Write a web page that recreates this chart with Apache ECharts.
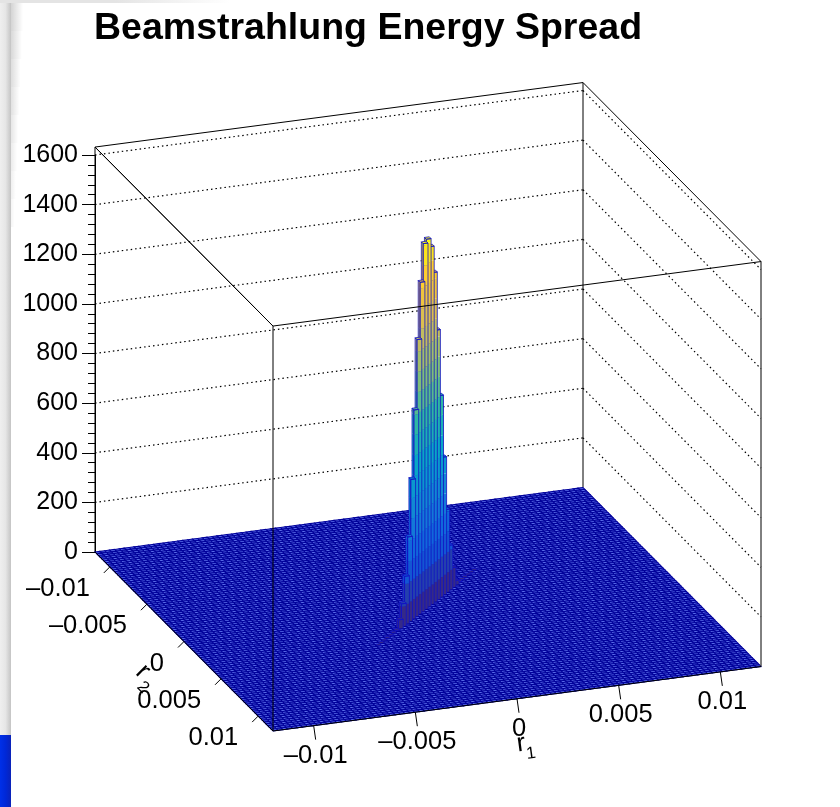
<!DOCTYPE html>
<html><head><meta charset="utf-8">
<style>html,body{margin:0;padding:0;background:#fff}#c{width:840px;height:807px}</style>
<script src="https://cdn.jsdelivr.net/npm/echarts@6/dist/echarts.min.js"></script>
</head><body><div id="c"></div>
<script>
const titleText = 'Beamstrahlung Energy Spread';
const zTicks = [0,200,400,600,800,1000,1200,1400,1600];
const zBoxTop = 1632;
const r1Ticks = [-0.01,-0.005,0,0.005,0.01];
const r2Ticks = [-0.01,-0.005,0,0.005,0.01];
const r1TickText = ['–0.01','–0.005','0','0.005','0.01'];
const r2TickText = ['–0.01','–0.005','0','0.005','0.01'];
const rRange = [-0.012,0.012];
const binCount = 100;
const ridgeBinR1 = [34,35,36,37,38,39,40,41,42,43,44,45,46,47,48,49,50,51,52,53,54,55,56,57,58,59,60,61,62,63,64,65];
const ridgeBinR2 = [64,63,62,61,60,59,58,57,56,55,54,53,52,51,50,49,48,47,46,45,44,43,42,41,40,39,38,37,36,35,34,33];
const ridgeCounts = [1,1,1,2,2,3,5,38,93,194,343,565,835,1109,1330,1476,1484,1444,1330,1088,814,556,335,181,81,20,5,3,2,2,1,1];
const birdStops = [[53,42,135],[15,92,221],[20,129,214],[6,164,202],[46,183,164],[135,191,119],[209,187,89],[254,200,50],[249,251,14]];
const levelCount = 20;
const topColourLevel = 18;

const gridLeft=95, gridRight=761, zeroY=552, topTickY=155;
const pxPerZ=(zeroY-topTickY)/1600;
const view={uR1:488,uR2:178,upR1:64.5/pxPerZ,downR2:179/pxPerZ};

function norm(r){return (r-rRange[0])/(rRange[1]-rRange[0]);}
function proj(api,s,t,z,dx,dy){
  const p=api.coord([s*view.uR1+t*view.uR2, z+s*view.upR1-t*view.downR2]);
  return [p[0]+(dx||0),p[1]+(dy||0)];
}
function bird(f){
  const x=Math.min(1,Math.max(0,f))*(birdStops.length-1),k=Math.min(birdStops.length-2,Math.floor(x)),w=x-k;
  const a=birdStops[k],b=birdStops[k+1];
  return 'rgb('+[0,1,2].map(c=>Math.round(a[c]+(b[c]-a[c])*w)).join(',')+')';
}
const levelStep=zBoxTop/levelCount;
const levelColor=k=>bird(k/topColourLevel);

const ridge={};
ridgeCounts.forEach((c,k)=>{ridge[ridgeBinR1[k]+'_'+ridgeBinR2[k]]=c;});
const cells=[];
for(let i=binCount-1;i>=0;i--)for(let j=0;j<binCount;j++)cells.push([i,j,ridge[i+'_'+j]||0]);

const edgeColor='#1212c4', floorFill='#5c70ec', floorEdge='#00009a';
function renderCell(params,api){
  const i=api.value(0),j=api.value(1),z=api.value(2);
  const s0=i/binCount,s1=(i+1)/binCount,t0=j/binCount,t1=(j+1)/binCount;
  const top=[proj(api,s0,t0,z),proj(api,s1,t0,z),proj(api,s1,t1,z),proj(api,s0,t1,z)];
  if(z===0){
    return {type:'polygon',shape:{points:top},style:{fill:floorFill,stroke:floorEdge,lineWidth:1.05}};
  }
  const children=[];
  for(let k=0;k*levelStep<z;k++){
    const a=k*levelStep,b=Math.min(z,(k+1)*levelStep),col=levelColor(k);
    children.push({type:'polygon',shape:{points:[proj(api,s0,t0,a),proj(api,s0,t1,a),proj(api,s0,t1,b),proj(api,s0,t0,b)]},style:{fill:col}});
    children.push({type:'polygon',shape:{points:[proj(api,s0,t1,a),proj(api,s1,t1,a),proj(api,s1,t1,b),proj(api,s0,t1,b)]},style:{fill:col}});
  }
  const outline={fill:null,stroke:edgeColor,lineWidth:0.8};
  children.push({type:'polygon',shape:{points:top},style:{fill:levelColor(Math.floor(z/levelStep)),stroke:edgeColor,lineWidth:0.8}});
  children.push({type:'polygon',shape:{points:[proj(api,s0,t0,0),proj(api,s0,t1,0),proj(api,s0,t1,z),proj(api,s0,t0,z)]},style:outline});
  children.push({type:'polygon',shape:{points:[proj(api,s0,t1,0),proj(api,s1,t1,0),proj(api,s1,t1,z),proj(api,s0,t1,z)]},style:outline});
  return {type:'group',children};
}
const ln=(a,b,style)=>({type:'line',shape:{x1:a[0],y1:a[1],x2:b[0],y2:b[1]},style:Object.assign({stroke:'#000',lineWidth:1},style||{})});

function renderWalls(params,api){
  const z=api.value(0);
  const dots={lineDash:[1.5,3],lineWidth:1.2};
  return {type:'group',children:[
    ln(proj(api,0,0,z),proj(api,1,0,z),dots),
    ln(proj(api,1,0,z),proj(api,1,1,z),dots)
  ]};
}
function renderBackBox(params,api){
  return {type:'group',children:[
    ln(proj(api,0,0,zBoxTop),proj(api,1,0,zBoxTop)),
    ln(proj(api,1,0,zBoxTop),proj(api,1,1,zBoxTop)),
    ln(proj(api,0,0,zBoxTop),proj(api,0,1,zBoxTop)),
    ln(proj(api,1,0,0),proj(api,1,0,zBoxTop)),
    ln(proj(api,0,0,0),proj(api,0,0,zBoxTop))
  ]};
}
const labelFont='25.5px "Liberation Sans"';
const txt=(x,y,text,align,font,rot)=>({type:'text',x,y,rotation:rot||0,style:{text,fill:'#000',font:font||labelFont,align:align||'center',verticalAlign:'middle'}});
function renderFront(params,api){
  const c=[
    ln(proj(api,0,1,zBoxTop),proj(api,1,1,zBoxTop)),
    ln(proj(api,0,0,zBoxTop),proj(api,0,1,zBoxTop)),
    ln(proj(api,0,1,0),proj(api,0,1,zBoxTop)),
    ln(proj(api,1,1,0),proj(api,1,1,zBoxTop)),
    ln(proj(api,0,0,0),proj(api,0,1,0)),
    ln(proj(api,0,1,0),proj(api,1,1,0))
  ];
  r1Ticks.forEach((v,k)=>{
    const s=norm(v);
    c.push(ln(proj(api,s,1,0),proj(api,s,1,0,2,14)));
    const p=proj(api,s,1,0,2,30);
    c.push(txt(p[0],p[1],r1TickText[k],'center'));
  });
  r2Ticks.forEach((v,k)=>{
    const t=norm(v);
    c.push(ln(proj(api,0,t,0),proj(api,0,t,0,-6,6)));
    const p=proj(api,0,t,0,-20,22);
    c.push(txt(p[0],p[1],r2TickText[k],'right'));
  });
  const a=proj(api,norm(0),1,0,4,45);
  c.push(txt(a[0],a[1],'r','center','26px "Liberation Sans"',0.134));
  c.push(txt(a[0]+10,a[1]+10,'1','center','17px "Liberation Sans"',0.134));
  const b=proj(api,0,norm(0),0,-41,30);
  c.push(txt(b[0],b[1],'r','center','26px "Liberation Sans"',-0.785));
  c.push(txt(b[0]+0,b[1]+16,'2','center','17px "Liberation Sans"',-0.785));
  return {type:'group',children:c};
}
const grad=(x2,y2,stops)=>({type:'linear',x:0,y:0,x2,y2,colorStops:stops.map((c,i)=>({offset:i/(stops.length-1),color:c}))});
const shadowSlices=[];
for(let n=0;n<8;n++){
  shadowSlices.push({type:'rect',shape:{x:11,y:3+n*28,width:12-n*1.2,height:28},
    style:{fill:grad(1,0,['rgba(0,0,0,'+(0.17-n*0.018).toFixed(3)+')','rgba(0,0,0,0)'])},silent:true});
}
const chart=echarts.init(document.getElementById('c'),null,{renderer:'canvas'});
chart.setOption({
  animation:false,
  backgroundColor:'#fff',
  title:{text:titleText,left:94,top:10,padding:0,textStyle:{fontFamily:'Liberation Sans',fontWeight:'bold',fontSize:37.5,color:'#000'}},
  grid:{left:gridLeft,right:840-gridRight,top:topTickY,bottom:807-zeroY,containLabel:false},
  xAxis:{type:'value',min:0,max:gridRight-gridLeft,show:false},
  yAxis:{type:'value',min:0,max:1600,interval:200,
    axisLine:{show:true,lineStyle:{color:'#000',width:1}},
    axisTick:{show:true,length:13,lineStyle:{color:'#000',width:1}},
    minorTick:{show:true,splitNumber:5,length:7,lineStyle:{color:'#000',width:1}},
    splitLine:{show:false},minorSplitLine:{show:false},
    axisLabel:{margin:17,color:'#000',fontFamily:'Liberation Sans',fontSize:25,formatter:v=>String(v)}
  },
  graphic:[
    {type:'rect',shape:{x:0,y:3,width:11,height:732},style:{fill:grad(1,0,['#efefef','#e6e6e6','#c4c4c4'])},silent:true},
    {type:'rect',shape:{x:0,y:735,width:11,height:72},style:{fill:grad(1,0,['#0030e8','#0028d8','#0a22b8'])},silent:true},
    {type:'rect',shape:{x:0,y:0,width:230,height:3},style:{fill:grad(1,0,['#e4e4e4','#e4e4e4','#ffffff'])},silent:true}
  ].concat(shadowSlices),
  series:[
    {type:'custom',coordinateSystem:'cartesian2d',clip:false,silent:true,progressive:0,renderItem:renderWalls,data:zTicks.slice(1).map(z=>[z]),encode:{x:0,y:0},z:1},
    {type:'custom',coordinateSystem:'cartesian2d',clip:false,silent:true,progressive:0,renderItem:renderBackBox,data:[[0]],encode:{x:0,y:0},z:1},
    {type:'custom',coordinateSystem:'cartesian2d',clip:false,silent:true,progressive:0,renderItem:renderCell,data:cells,encode:{x:0,y:1},z:2},
    {type:'custom',coordinateSystem:'cartesian2d',clip:false,silent:true,progressive:0,renderItem:renderFront,data:[[0]],encode:{x:0,y:0},z:3}
  ]
});
</script></body></html>
